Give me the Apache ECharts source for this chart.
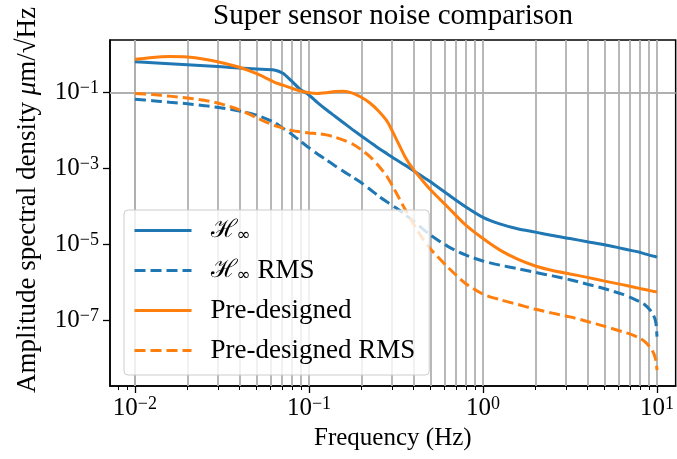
<!DOCTYPE html>
<html><head><meta charset="utf-8">
<script src="https://cdn.jsdelivr.net/npm/echarts@6/dist/echarts.min.js"></script>
<style>html,body{margin:0;padding:0;background:#fff}#c{width:677px;height:459px}</style>
</head><body><div id="c"></div>
<script>
// Frequencies (Hz)
const freq = [0.01, 0.0126, 0.0158, 0.02, 0.0251, 0.0316, 0.0398, 0.0501, 0.0631, 0.0708, 0.0794, 0.0891,
  0.1, 0.112, 0.126, 0.141, 0.158, 0.178, 0.2, 0.224, 0.251, 0.282, 0.316, 0.355, 0.398, 0.447, 0.501,
  0.631, 0.794, 1, 1.26, 1.58, 2, 2.51, 3.16, 3.98, 5.01, 6.31, 7.08, 7.94, 8.51, 9.12, 9.55, 9.77, 9.89, 10];
// H-infinity ASD (um/sqrt(Hz))
const hinf = [0.655, 0.617, 0.582, 0.547, 0.513, 0.479, 0.447, 0.422, 0.398, 0.324, 0.204, 0.123,
  0.0871, 0.0550, 0.0355, 0.0240, 0.0162, 0.0107, 0.00724, 0.00501, 0.00347, 0.00245, 0.00174, 0.00126, 8.91e-4, 6.31e-4, 4.47e-4,
  2.09e-4, 1.0e-4, 5.25e-5, 3.47e-5, 2.63e-5, 2.14e-5, 1.74e-5, 1.45e-5, 1.20e-5, 1.0e-5, 7.94e-6, 7.08e-6, 6.31e-6, 5.75e-6, 5.25e-6, 5.01e-6, 4.90e-6, 4.79e-6, 4.68e-6];
// H-infinity RMS
const hinfRms = [0.0676, 0.0617, 0.0562, 0.0513, 0.0457, 0.0398, 0.0331, 0.0257, 0.0166, 0.0117, 0.00813, 0.00537,
  0.00355, 0.00245, 0.00170, 0.00120, 8.51e-4, 6.03e-4, 4.27e-4, 2.88e-4, 1.91e-4, 1.32e-4, 9.33e-5, 6.31e-5, 4.17e-5, 2.69e-5, 1.78e-5,
  8.91e-6, 5.37e-6, 3.72e-6, 2.88e-6, 2.34e-6, 1.86e-6, 1.51e-6, 1.20e-6, 9.12e-7, 6.92e-7, 5.01e-7, 4.07e-7, 3.16e-7, 2.63e-7, 1.91e-7, 1.38e-7, 1.05e-7, 7.59e-8, 3.80e-8];
// Pre-designed ASD
const pre = [0.757, 0.851, 0.891, 0.865, 0.759, 0.617, 0.468, 0.316, 0.191, 0.158, 0.132, 0.112,
  0.100, 0.0955, 0.100, 0.107, 0.110, 0.0977, 0.0759, 0.0537, 0.0331, 0.0174, 0.00631, 0.00214, 9.55e-4, 5.01e-4, 2.75e-4,
  9.55e-5, 3.31e-5, 1.45e-5, 7.08e-6, 4.17e-6, 2.75e-6, 2.09e-6, 1.70e-6, 1.38e-6, 1.10e-6, 8.91e-7, 7.94e-7, 7.08e-7, 6.61e-7, 6.17e-7, 5.89e-7, 5.82e-7, 5.75e-7, 5.75e-7];
// Pre-designed RMS
const preRms = [0.0955, 0.0891, 0.0813, 0.0724, 0.0631, 0.0501, 0.0355, 0.0219, 0.0138, 0.0117, 0.0102, 0.00933,
  0.00871, 0.00832, 0.00776, 0.00676, 0.00562, 0.00447, 0.00316, 0.00209, 0.00120, 6.03e-4, 2.40e-4, 8.91e-5, 3.55e-5, 1.51e-5, 7.59e-6,
  2.51e-6, 9.55e-7, 5.01e-7, 3.55e-7, 2.69e-7, 2.00e-7, 1.58e-7, 1.26e-7, 9.55e-8, 7.08e-8, 5.13e-8, 4.37e-8, 3.47e-8, 2.82e-8, 2.00e-8, 1.41e-8, 1.05e-8, 7.94e-9, 5.01e-9];

const seriesNames = ['H∞', 'H∞ RMS', 'Pre-designed', 'Pre-designed RMS'];
const titleText = 'Super sensor noise comparison';
const xMajorTicks = [0.01, 0.1, 1, 10];
const yMajorTicks = [1e-7, 1e-5, 1e-3, 1e-1];
const xMin = 0.00719, xMax = 12.8;
const yMin = 1.91e-9, yMax = 2.44;

const xMinorTicks = [];
[0.001, 0.01, 0.1, 1, 10].forEach(d => { for (let m = 2; m <= 9; m++) { const v = +(m * d).toPrecision(3); if (v >= xMin && v <= xMax) xMinorTicks.push(v); } });
const xGrid = xMajorTicks.concat(xMinorTicks);

const FONT = "'Liberation Serif', 'DejaVu Serif', serif";
const BLUE = '#1f77b4', ORANGE = '#ff7f0e';
const TITLE_SIZE = 29;

// centre the title over the plot area (grid left 110, width 567)
const mctx = document.createElement('canvas').getContext('2d');
mctx.font = TITLE_SIZE + "px 'Liberation Serif'";
const titleW = mctx.measureText(titleText).width;
const titleLeft = Math.round(110 + 567 / 2 - titleW / 2);

function pairs(ys) { return freq.map((f, i) => [f, ys[i]]); }
function expLabel(v) {
  const e = Math.round(Math.log10(v));
  return '{b|10}{s|' + (e < 0 ? '\u2212' + (-e) : String(e)) + '}';
}
const tickRich = {
  b: { fontFamily: FONT, fontSize: 25, lineHeight: 27, color: '#000' },
  s: { fontFamily: FONT, fontSize: 18, lineHeight: 18, color: '#000', verticalAlign: 'top' }
};

function lineSeries(name, ys, color, dashed) {
  return {
    name, type: 'line', data: pairs(ys), symbol: 'none', showSymbol: false,
    smooth: 0.25, z: 3,
    lineStyle: { color, width: 3, type: dashed ? [11, 5] : 'solid' },
    itemStyle: { color }
  };
}

const legendFmt = {
  'H∞': '{h|ℋ}{u|∞}',
  'H∞ RMS': '{h|ℋ}{u|∞}{t| RMS}',
  'Pre-designed': '{t|Pre-designed}',
  'Pre-designed RMS': '{t|Pre-designed RMS}'
};

const chart = echarts.init(document.getElementById('c'), null, { renderer: 'canvas' });
chart.setOption({
  animation: false,
  backgroundColor: '#fff',
  title: {
    text: titleText, left: titleLeft, top: 2, padding: 0,
    textStyle: { fontFamily: FONT, fontSize: TITLE_SIZE, fontWeight: 'normal', color: '#000' }
  },
  grid: { left: 110, right: 0, top: 40, bottom: 73, show: true, borderColor: '#000', borderWidth: 1.5, backgroundColor: 'transparent' },
  legend: {
    data: seriesNames, orient: 'vertical', left: 124, top: 210,
    padding: [8, 14, 11, 9], itemGap: 13, itemWidth: 57, itemHeight: 18,
    backgroundColor: 'rgba(255,255,255,0.8)', borderColor: '#cccccc', borderWidth: 1, borderRadius: 4,
    lineStyle: { width: 3 },
    itemStyle: { opacity: 0, borderWidth: 0 },
    formatter: n => legendFmt[n],
    textStyle: {
      fontFamily: FONT, fontSize: 27, color: '#000', padding: [0, 0, 0, 14],
      rich: {
        h: { fontFamily: "'DejaVu Serif', serif", fontSize: 25, lineHeight: 27, color: '#000' },
        u: { fontFamily: "'DejaVu Sans', sans-serif", fontSize: 17, lineHeight: 27, color: '#000', verticalAlign: 'bottom', padding: [9, 0, 0, 0] },
        t: { fontFamily: FONT, fontSize: 27, lineHeight: 27, color: '#000' }
      }
    }
  },
  xAxis: [{
    type: 'log', logBase: 10, min: xMin, max: xMax, position: 'bottom',
    name: 'Frequency (Hz)', nameLocation: 'middle', nameGap: 38,
    nameTextStyle: { fontFamily: FONT, fontSize: 25, color: '#000' },
    axisLine: { show: true, lineStyle: { color: '#000', width: 1.5 } },
    axisTick: { show: true, customValues: xMajorTicks, length: 7, lineStyle: { color: '#000', width: 1.3 } },
    axisLabel: { show: true, customValues: xMajorTicks, margin: 9, formatter: expLabel, rich: tickRich },
    splitLine: { show: false }, minorTick: { show: false }, minorSplitLine: { show: false }
  }, {
    type: 'log', logBase: 10, min: xMin, max: xMax, position: 'bottom',
    axisLine: { show: false },
    axisTick: { show: true, customValues: xMinorTicks, length: 4, lineStyle: { color: '#000', width: 1 } },
    axisLabel: { show: false }, splitLine: { show: false }
  }],
  yAxis: {
    type: 'log', logBase: 10, min: yMin, max: yMax, position: 'left',
    name: 'Amplitude spectral density {i|μ}m/√Hz', nameLocation: 'middle', nameGap: 69, nameRotate: 90,
    nameTextStyle: { fontFamily: FONT, fontSize: 27, color: '#000', padding: [0, 0, 0, 26],
      rich: { i: { fontFamily: FONT, fontSize: 27, fontStyle: 'italic', color: '#000' } } },
    axisLine: { show: true, lineStyle: { color: '#000', width: 1.5 } },
    axisTick: { show: true, customValues: yMajorTicks, length: 7, lineStyle: { color: '#000', width: 1.3 } },
    axisLabel: { show: true, customValues: yMajorTicks, margin: 11, formatter: expLabel, rich: tickRich },
    splitLine: { show: false }, minorTick: { show: false }, minorSplitLine: { show: false }
  },
  series: [
    {
      name: 'grid', type: 'line', data: [], z: 1, silent: true,
      markLine: {
        silent: true, symbol: ['none', 'none'], z: 1, animation: false,
        label: { show: false },
        lineStyle: { color: '#b0b0b0', width: 1.8, type: 'solid' },
        emphasis: { disabled: true },
        data: xGrid.map(v => ({ xAxis: v })).concat(yMajorTicks.map(v => ({ yAxis: v })))
      }
    },
    lineSeries('H∞', hinf, BLUE, false),
    lineSeries('H∞ RMS', hinfRms, BLUE, true),
    lineSeries('Pre-designed', pre, ORANGE, false),
    lineSeries('Pre-designed RMS', preRms, ORANGE, true)
  ]
});
</script></body></html>
